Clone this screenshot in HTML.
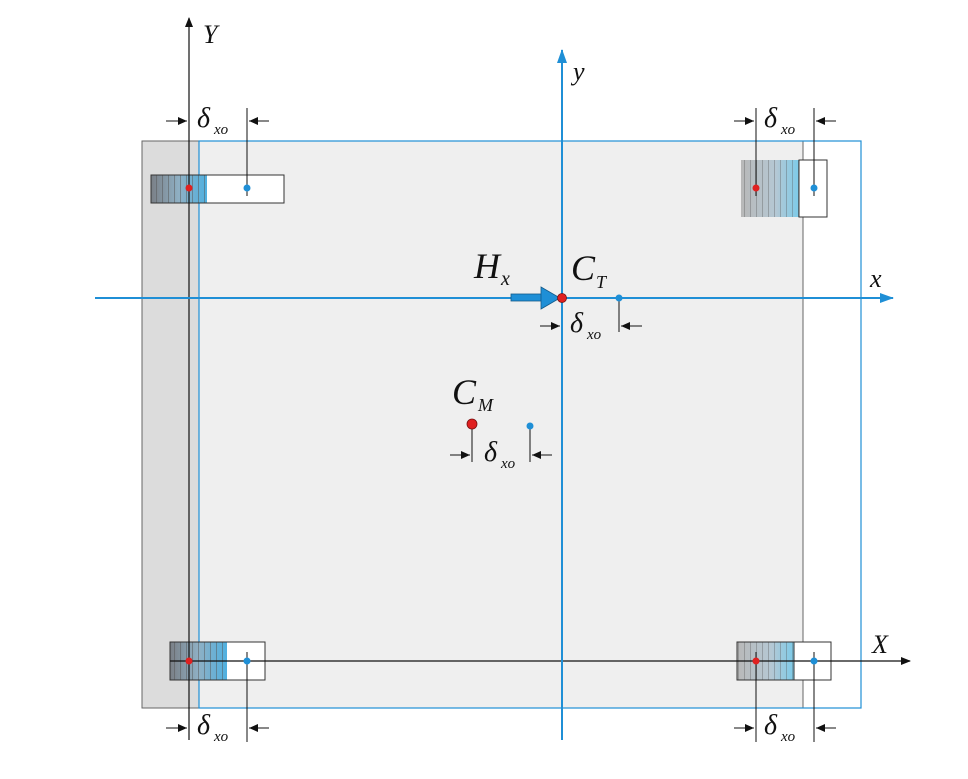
<!DOCTYPE html>
<html><head><meta charset="utf-8"><style>
html,body{margin:0;padding:0;background:#fff;}
svg{display:block;}
text{font-family:"Liberation Serif",serif;font-style:italic;fill:#111;}
</style></head><body>
<svg width="968" height="779" viewBox="0 0 968 779" xmlns="http://www.w3.org/2000/svg">
<defs>
<linearGradient id="g" x1="0" x2="1" y1="0" y2="0">
<stop offset="0" stop-color="#7a7f86"/><stop offset="0.5" stop-color="#8fb0c4"/><stop offset="1" stop-color="#4fb0e0"/>
</linearGradient>
<linearGradient id="g2" x1="0" x2="1" y1="0" y2="0">
<stop offset="0" stop-color="#b8b8b8"/><stop offset="0.6" stop-color="#b5c8d4"/><stop offset="1" stop-color="#7ccbe9"/>
</linearGradient>
<pattern id="h" width="6" height="10" patternUnits="userSpaceOnUse">
<line x1="0.5" y1="0" x2="0.5" y2="10" stroke="#555" stroke-opacity="0.5" stroke-width="1"/>
</pattern>
<marker id="a" markerWidth="10" markerHeight="8" refX="9" refY="4" orient="auto" markerUnits="userSpaceOnUse">
<path d="M0,0 L10,4 L0,8 Z" fill="#111"/></marker>
<marker id="ab" markerWidth="14" markerHeight="10" refX="13" refY="5" orient="auto" markerUnits="userSpaceOnUse">
<path d="M0,0 L14,5 L0,10 Z" fill="#1f8fd6"/></marker>
<marker id="s" markerWidth="9" markerHeight="8" refX="9" refY="4" orient="auto" markerUnits="userSpaceOnUse">
<path d="M0,0 L9,4 L0,8 Z" fill="#111"/></marker>
</defs>

<!-- plates -->
<rect x="142" y="141" width="57" height="567" fill="#dcdcdc"/>
<rect x="199" y="141" width="604" height="567" fill="#efefef"/>
<rect x="142" y="141" width="661" height="567" fill="none" stroke="#666" stroke-width="1"/>
<rect x="199" y="141" width="662" height="567" fill="none" stroke="#1f8fd6" stroke-width="1.2"/>

<!-- supports TL -->
<rect x="151" y="175" width="56" height="28" fill="url(#g)"/>
<rect x="151" y="175" width="56" height="28" fill="url(#h)"/>
<rect x="207" y="175" width="77" height="28" fill="#fff"/>
<rect x="151" y="175" width="133" height="28" fill="none" stroke="#333" stroke-width="1"/>
<!-- TR -->
<rect x="741" y="160" width="58" height="57" fill="url(#g2)"/>
<rect x="741" y="160" width="58" height="57" fill="url(#h)" opacity="0.7"/>
<rect x="799" y="160" width="28" height="57" fill="#fff" stroke="#333"/>
<!-- BL -->
<rect x="170" y="642" width="57" height="38" fill="url(#g)"/>
<rect x="170" y="642" width="57" height="38" fill="url(#h)"/>
<rect x="227" y="642" width="38" height="38" fill="#fff"/>
<rect x="170" y="642" width="95" height="38" fill="none" stroke="#333"/>
<!-- BR -->
<rect x="737" y="642" width="57" height="38" fill="url(#g2)"/>
<rect x="737" y="642" width="57" height="38" fill="url(#h)" opacity="0.7"/>
<rect x="794" y="642" width="37" height="38" fill="#fff" stroke="#333"/>
<rect x="737" y="642" width="94" height="38" fill="none" stroke="#333"/>

<!-- global axes -->
<line x1="189" y1="740" x2="189" y2="18" stroke="#111" stroke-width="1.2" marker-end="url(#a)"/>
<line x1="170" y1="661" x2="910" y2="661" stroke="#111" stroke-width="1.2" marker-end="url(#a)"/>
<text x="203" y="43" font-size="26">Y</text>
<text x="872" y="653" font-size="26">X</text>

<!-- blue axes -->
<line x1="562" y1="740" x2="562" y2="50" stroke="#1f8fd6" stroke-width="2" marker-end="url(#ab)"/>
<line x1="95" y1="298" x2="893" y2="298" stroke="#1f8fd6" stroke-width="2" marker-end="url(#ab)"/>
<text x="573" y="80" font-size="26">y</text>
<text x="870" y="287" font-size="26">x</text>

<!-- Hx arrow -->
<rect x="511" y="294" width="32" height="7" fill="#1f8fd6" stroke="#145a8a" stroke-width="0.8"/>
<path d="M541,287 L560,298 L541,309 Z" fill="#1f8fd6" stroke="#145a8a" stroke-width="0.8"/>
<text x="474" y="278" font-size="36">H</text><text x="501" y="285" font-size="20">x</text>
<text x="571" y="280" font-size="36">C</text><text x="596" y="288" font-size="18">T</text>

<!-- CT dims -->
<line x1="619" y1="298" x2="619" y2="332" stroke="#111"/>
<line x1="540" y1="326" x2="560" y2="326" stroke="#111" marker-end="url(#s)"/>
<line x1="642" y1="326" x2="621" y2="326" stroke="#111" marker-end="url(#s)"/>
<circle cx="619" cy="298" r="3.5" fill="#1f8fd6"/>
<circle cx="562" cy="298" r="4.5" fill="#e02020" stroke="#7a1010" stroke-width="0.8"/>
<text x="570" y="332" font-size="28">δ</text><text x="587" y="339" font-size="15">xo</text>

<!-- CM -->
<text x="452" y="404" font-size="36">C</text><text x="478" y="411" font-size="18">M</text>
<line x1="472" y1="424" x2="472" y2="462" stroke="#111"/>
<line x1="530" y1="426" x2="530" y2="462" stroke="#111"/>
<line x1="450" y1="455" x2="470" y2="455" stroke="#111" marker-end="url(#s)"/>
<line x1="552" y1="455" x2="532" y2="455" stroke="#111" marker-end="url(#s)"/>
<circle cx="472" cy="424" r="5" fill="#e02020" stroke="#7a1010" stroke-width="0.8"/>
<circle cx="530" cy="426" r="3.5" fill="#1f8fd6"/>
<text x="484" y="461" font-size="28">δ</text><text x="501" y="468" font-size="15">xo</text>

<!-- TL dims -->
<line x1="247" y1="108" x2="247" y2="196" stroke="#111"/>
<line x1="166" y1="121" x2="187" y2="121" stroke="#111" marker-end="url(#s)"/>
<line x1="269" y1="121" x2="249" y2="121" stroke="#111" marker-end="url(#s)"/>
<text x="197" y="127" font-size="28">δ</text><text x="214" y="134" font-size="15">xo</text>
<circle cx="189" cy="188" r="3.5" fill="#e02020"/>
<circle cx="247" cy="188" r="3.5" fill="#1f8fd6"/>

<!-- TR dims -->
<line x1="756" y1="108" x2="756" y2="196" stroke="#111"/>
<line x1="814" y1="108" x2="814" y2="196" stroke="#111"/>
<line x1="734" y1="121" x2="754" y2="121" stroke="#111" marker-end="url(#s)"/>
<line x1="836" y1="121" x2="816" y2="121" stroke="#111" marker-end="url(#s)"/>
<text x="764" y="127" font-size="28">δ</text><text x="781" y="134" font-size="15">xo</text>
<circle cx="756" cy="188" r="3.5" fill="#e02020"/>
<circle cx="814" cy="188" r="3.5" fill="#1f8fd6"/>

<!-- BL dims -->
<line x1="247" y1="652" x2="247" y2="742" stroke="#111"/>
<line x1="166" y1="728" x2="187" y2="728" stroke="#111" marker-end="url(#s)"/>
<line x1="269" y1="728" x2="249" y2="728" stroke="#111" marker-end="url(#s)"/>
<text x="197" y="734" font-size="28">δ</text><text x="214" y="741" font-size="15">xo</text>
<circle cx="189" cy="661" r="3.5" fill="#e02020"/>
<circle cx="247" cy="661" r="3.5" fill="#1f8fd6"/>

<!-- BR dims -->
<line x1="756" y1="652" x2="756" y2="742" stroke="#111"/>
<line x1="814" y1="652" x2="814" y2="742" stroke="#111"/>
<line x1="734" y1="728" x2="754" y2="728" stroke="#111" marker-end="url(#s)"/>
<line x1="836" y1="728" x2="816" y2="728" stroke="#111" marker-end="url(#s)"/>
<text x="764" y="734" font-size="28">δ</text><text x="781" y="741" font-size="15">xo</text>
<circle cx="756" cy="661" r="3.5" fill="#e02020"/>
<circle cx="814" cy="661" r="3.5" fill="#1f8fd6"/>
</svg>
</body></html>
